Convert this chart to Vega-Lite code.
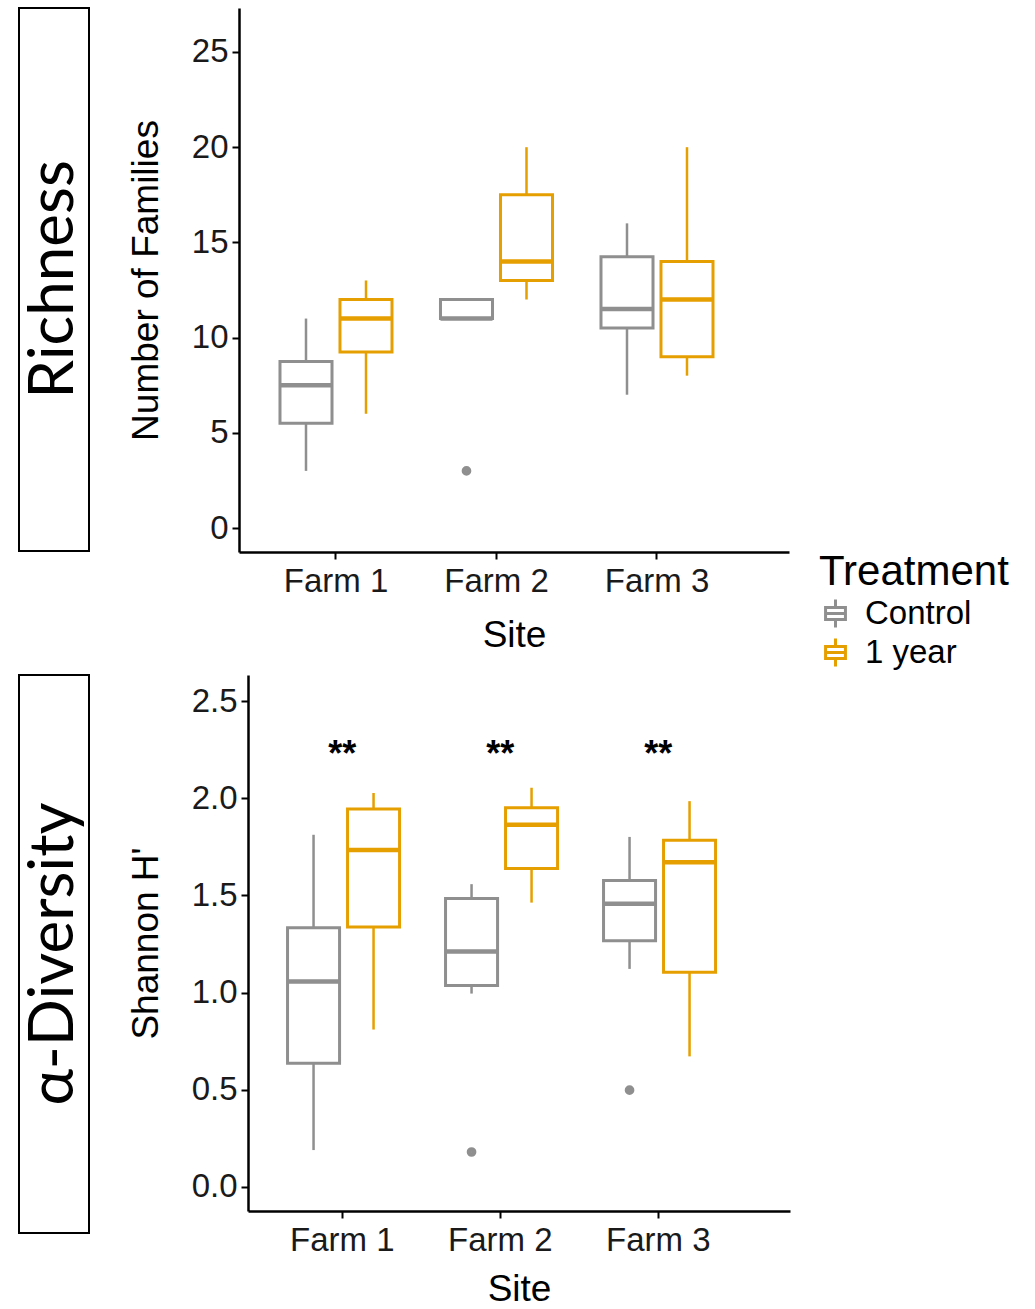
{
  "$schema": "https://vega.github.io/schema/vega-lite/v6.json",
  "background": "white",
  "padding": {"left": 18, "top": 7, "right": 0, "bottom": 0},
  "config": {
    "view": {"stroke": null},
    "font": "Liberation Sans",
    "axis": {
      "labelFont": "Liberation Sans",
      "labelFontSize": 33,
      "labelColor": "#1a1a1a",
      "titleFont": "Liberation Sans",
      "titleFontSize": 37,
      "titleFontWeight": "normal",
      "titleColor": "#000000",
      "domainColor": "#000000",
      "domainWidth": 2.5,
      "tickColor": "#000000",
      "tickWidth": 2,
      "tickSize": 7,
      "grid": false,
      "labelPadding": 4
    },
    "axisY": {"titlePadding": 26},
    "axisX": {"labelAngle": 0, "titlePadding": 19, "labelPadding": 6},
    "legend": {
      "labelFont": "Liberation Sans",
      "titleFont": "Liberation Sans"
    }
  },
  "datasets": {
    "richness": [
      {"Site": "Farm 1", "Treatment": "Control", "lower": 3, "q1": 5.5, "median": 7.5, "q3": 8.75, "upper": 11},
      {"Site": "Farm 1", "Treatment": "1 year", "lower": 6, "q1": 9.25, "median": 11, "q3": 12, "upper": 13},
      {"Site": "Farm 2", "Treatment": "Control", "lower": 11, "q1": 11, "median": 11, "q3": 12, "upper": 12},
      {"Site": "Farm 2", "Treatment": "1 year", "lower": 12, "q1": 13, "median": 14, "q3": 17.5, "upper": 20},
      {"Site": "Farm 3", "Treatment": "Control", "lower": 7, "q1": 10.5, "median": 11.5, "q3": 14.25, "upper": 16},
      {"Site": "Farm 3", "Treatment": "1 year", "lower": 8, "q1": 9, "median": 12, "q3": 14, "upper": 20}
    ],
    "richness_out": [
      {"Site": "Farm 2", "Treatment": "Control", "value": 3}
    ],
    "shannon": [
      {"Site": "Farm 1", "Treatment": "Control", "lower": 0.19, "q1": 0.637, "median": 1.057, "q3": 1.334, "upper": 1.812},
      {"Site": "Farm 1", "Treatment": "1 year", "lower": 0.81, "q1": 1.337, "median": 1.734, "q3": 1.944, "upper": 2.027},
      {"Site": "Farm 2", "Treatment": "Control", "lower": 0.995, "q1": 1.037, "median": 1.212, "q3": 1.484, "upper": 1.558},
      {"Site": "Farm 2", "Treatment": "1 year", "lower": 1.463, "q1": 1.639, "median": 1.863, "q3": 1.951, "upper": 2.054},
      {"Site": "Farm 3", "Treatment": "Control", "lower": 1.122, "q1": 1.267, "median": 1.457, "q3": 1.577, "upper": 1.801},
      {"Site": "Farm 3", "Treatment": "1 year", "lower": 0.672, "q1": 1.105, "median": 1.671, "q3": 1.784, "upper": 1.985}
    ],
    "shannon_out": [
      {"Site": "Farm 2", "Treatment": "Control", "value": 0.18},
      {"Site": "Farm 3", "Treatment": "Control", "value": 0.498}
    ],
    "sig": [
      {"Site": "Farm 1", "y": 2.225, "label": "**"},
      {"Site": "Farm 2", "y": 2.225, "label": "**"},
      {"Site": "Farm 3", "y": 2.225, "label": "**"}
    ]
  },
  "spacing": 21,
  "vconcat": [
    {
      "spacing": 37,
      "hconcat": [
        {
          "width": 70,
          "height": 543,
          "view": {"stroke": "#000000", "strokeWidth": 2},
          "data": {"values": [{"label": "Richness"}]},
          "mark": {"type": "text", "angle": 270, "font": "Lato", "fontSize": 62, "align": "center", "baseline": "middle", "color": "#000000"},
          "encoding": {"text": {"field": "label", "type": "nominal"}}
        },
        {
          "width": 550,
          "height": 544,
          "data": {"name": "richness"},
          "encoding": {
            "x": {"field": "Site", "type": "nominal", "title": "Site",
                  "scale": {"paddingInner": 0, "paddingOuter": 0.2134, "align": 0.2445}}
          },
          "layer": [
            {
              "mark": {"type": "rule", "strokeWidth": 2.5},
              "encoding": {
                "xOffset": {"field": "Treatment", "type": "nominal", "sort": ["Control", "1 year"], "scale": {"paddingInner": 0.133, "paddingOuter": 0.404}},
                "y": {"field": "lower", "type": "quantitative", "title": "Number of Families",
                      "scale": {"domain": [-1.26, 27.31], "nice": false, "zero": false},
                      "axis": {"values": [0, 5, 10, 15, 20, 25]}},
                "y2": {"field": "q1"},
                "color": {"field": "Treatment", "type": "nominal", "sort": ["Control", "1 year"],
                          "scale": {"domain": ["Control", "1 year"], "range": ["#8f8f8f", "#E69F00"]},
                          "legend": {
                            "orient": "none", "legendX": 800, "legendY": 544,
                            "title": "Treatment", "titleFontSize": 42, "titleFontWeight": "normal", "titleColor": "#000000",
                            "titleLimit": 400, "labelLimit": 300,
                            "titlePadding": 3, "padding": 0,
                            "labelFontSize": 33, "labelColor": "#000000", "labelOffset": 13,
                            "rowPadding": -2,
                            "symbolType": "M0,-1V-0.43M-0.71,-0.43H0.71V0.43H-0.71ZM-0.71,0H0.71M0,0.43V1",
                            "symbolSize": 784, "symbolStrokeWidth": 3,
                            "symbolFillColor": "transparent",
                            "encode": {"symbols": {"update": {
                              "shape": {"value": "M0,-1V-0.43M-0.71,-0.43H0.71V0.43H-0.71ZM-0.71,0H0.71M0,0.43V1"},
                              "size": {"value": 784},
                              "strokeWidth": {"value": 3},
                              "opacity": {"value": 1},
                              "fillOpacity": {"value": 0},
                              "fill": {"value": "transparent"},
                              "stroke": {"scale": "color", "field": "value"}}}}
                          }}
              }
            },
            {
              "mark": {"type": "rule", "strokeWidth": 2.5},
              "encoding": {
                "xOffset": {"field": "Treatment", "type": "nominal", "sort": ["Control", "1 year"]},
                "y": {"field": "q3", "type": "quantitative", "title": "Number of Families"},
                "y2": {"field": "upper"},
                "color": {"field": "Treatment", "type": "nominal", "sort": ["Control", "1 year"]}
              }
            },
            {
              "mark": {"type": "bar", "filled": false, "strokeWidth": 3},
              "encoding": {
                "xOffset": {"field": "Treatment", "type": "nominal", "sort": ["Control", "1 year"]},
                "y": {"field": "q1", "type": "quantitative", "title": "Number of Families"},
                "y2": {"field": "q3"},
                "color": {"field": "Treatment", "type": "nominal", "sort": ["Control", "1 year"]}
              }
            },
            {
              "mark": {"type": "bar", "filled": false, "strokeWidth": 4.5, "strokeCap": "butt", "strokeJoin": "miter"},
              "encoding": {
                "xOffset": {"field": "Treatment", "type": "nominal", "sort": ["Control", "1 year"]},
                "y": {"field": "median", "type": "quantitative", "title": "Number of Families"},
                "y2": {"field": "median"},
                "color": {"field": "Treatment", "type": "nominal", "sort": ["Control", "1 year"]}
              }
            },
            {
              "data": {"name": "richness_out"},
              "mark": {"type": "point", "shape": "circle", "filled": false, "size": 22, "strokeWidth": 5, "opacity": 1},
              "encoding": {
                "xOffset": {"field": "Treatment", "type": "nominal", "sort": ["Control", "1 year"]},
                "y": {"field": "value", "type": "quantitative", "title": "Number of Families"},
                "color": {"field": "Treatment", "type": "nominal", "sort": ["Control", "1 year"]}
              }
            }
          ]
        }
      ]
    },
    {
      "spacing": 37,
      "hconcat": [
        {
          "width": 70,
          "height": 558,
          "view": {"stroke": "#000000", "strokeWidth": 2},
          "data": {"values": [{"label": "α-Diversity"}]},
          "mark": {"type": "text", "angle": 270, "font": "Lato", "fontSize": 62, "align": "center", "baseline": "middle", "color": "#000000"},
          "encoding": {"text": {"field": "label", "type": "nominal"}}
        },
        {
          "width": 542,
          "height": 536,
          "data": {"name": "shannon"},
          "encoding": {
            "x": {"field": "Site", "type": "nominal", "title": "Site",
                  "axis": {"titlePadding": 14},
                  "scale": {"paddingInner": 0, "paddingOuter": 0.2152, "align": 0.225}}
          },
          "layer": [
            {
              "mark": {"type": "rule", "strokeWidth": 2.5},
              "encoding": {
                "xOffset": {"field": "Treatment", "type": "nominal", "sort": ["Control", "1 year"], "scale": {"paddingInner": 0.133, "paddingOuter": 0.404}},
                "y": {"field": "lower", "type": "quantitative", "title": "Shannon H'",
                      "scale": {"domain": [-0.1235, 2.634], "nice": false, "zero": false},
                      "axis": {"values": [0, 0.5, 1, 1.5, 2, 2.5], "format": ".1f"}},
                "y2": {"field": "q1"},
                "color": {"field": "Treatment", "type": "nominal", "sort": ["Control", "1 year"]}
              }
            },
            {
              "mark": {"type": "rule", "strokeWidth": 2.5},
              "encoding": {
                "xOffset": {"field": "Treatment", "type": "nominal", "sort": ["Control", "1 year"]},
                "y": {"field": "q3", "type": "quantitative", "title": "Shannon H'"},
                "y2": {"field": "upper"},
                "color": {"field": "Treatment", "type": "nominal", "sort": ["Control", "1 year"]}
              }
            },
            {
              "mark": {"type": "bar", "filled": false, "strokeWidth": 3},
              "encoding": {
                "xOffset": {"field": "Treatment", "type": "nominal", "sort": ["Control", "1 year"]},
                "y": {"field": "q1", "type": "quantitative", "title": "Shannon H'"},
                "y2": {"field": "q3"},
                "color": {"field": "Treatment", "type": "nominal", "sort": ["Control", "1 year"]}
              }
            },
            {
              "mark": {"type": "bar", "filled": false, "strokeWidth": 4.5, "strokeCap": "butt", "strokeJoin": "miter"},
              "encoding": {
                "xOffset": {"field": "Treatment", "type": "nominal", "sort": ["Control", "1 year"]},
                "y": {"field": "median", "type": "quantitative", "title": "Shannon H'"},
                "y2": {"field": "median"},
                "color": {"field": "Treatment", "type": "nominal", "sort": ["Control", "1 year"]}
              }
            },
            {
              "data": {"name": "shannon_out"},
              "mark": {"type": "point", "shape": "circle", "filled": false, "size": 22, "strokeWidth": 5, "opacity": 1},
              "encoding": {
                "xOffset": {"field": "Treatment", "type": "nominal", "sort": ["Control", "1 year"]},
                "y": {"field": "value", "type": "quantitative", "title": "Shannon H'"},
                "color": {"field": "Treatment", "type": "nominal", "sort": ["Control", "1 year"]}
              }
            },
            {
              "data": {"name": "sig"},
              "mark": {"type": "text", "fontSize": 36, "fontWeight": "bold", "color": "#000000", "baseline": "middle", "align": "center"},
              "encoding": {
                "y": {"field": "y", "type": "quantitative", "title": "Shannon H'"},
                "text": {"field": "label", "type": "nominal"}
              }
            }
          ]
        }
      ]
    }
  ]
}
